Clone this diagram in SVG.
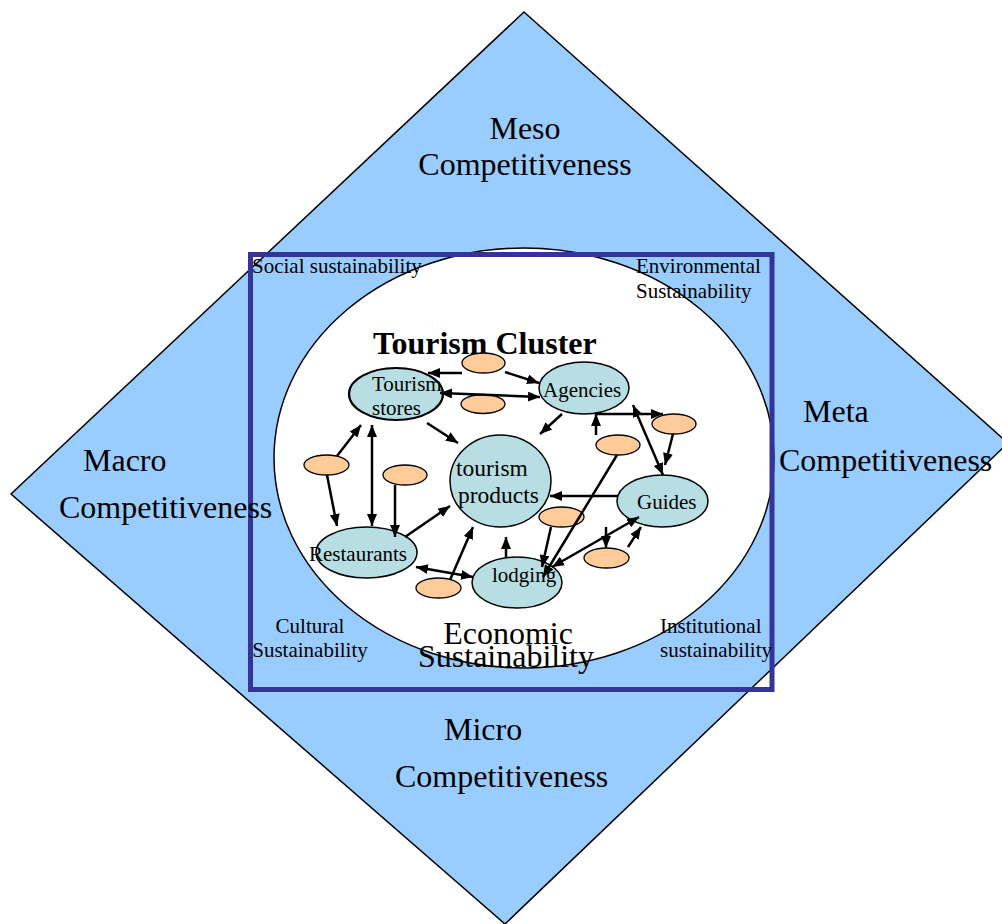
<svg xmlns="http://www.w3.org/2000/svg" width="1002" height="924" viewBox="0 0 1002 924">
<defs>
<marker id="ah" viewBox="0 0 12 10" refX="12" refY="5" markerWidth="12" markerHeight="10" markerUnits="userSpaceOnUse" orient="auto-start-reverse"><path d="M0,0 L12,5 L0,10 z" fill="#000"/></marker>
</defs>
<style>
text{font-family:"Liberation Serif","Times New Roman",serif;fill:#000}
.big{font-size:32px}
.sm{font-size:21px}
.nd{font-size:21px}
.node{fill:#b7dee2;stroke:#000;stroke-width:1.5}
.orn{fill:#ffcc99;stroke:#000;stroke-width:1.3}
.c line{stroke:#000;stroke-width:2.5;marker-end:url(#ah)}
.c line.d{marker-start:url(#ah)}
</style>
<rect width="1002" height="924" fill="#fff"/>
<g id="background">
<polygon points="524,12 1008,443 505,924 11,494" fill="#99ccff" stroke="#000" stroke-width="1.5"/>
<ellipse cx="524" cy="458" rx="250" ry="210" fill="#fff" stroke="#000" stroke-width="1.5"/>
<rect x="250.5" y="254.5" width="521.5" height="435" fill="none" stroke="#333399" stroke-width="5"/>
</g>
<g id="labels">
<text class="big" x="525" y="139" text-anchor="middle">Meso</text>
<text class="big" x="525" y="175" text-anchor="middle">Competitiveness</text>
<text class="big" x="83" y="471">Macro</text>
<text class="big" x="59" y="518">Competitiveness</text>
<text class="big" x="803" y="422">Meta</text>
<text class="big" x="779" y="471">Competitiveness</text>
<text class="big" x="444" y="740">Micro</text>
<text class="big" x="395" y="787">Competitiveness</text>
<text class="sm" x="252" y="273">Social sustainability</text>
<text class="sm" x="636" y="273">Environmental</text>
<text class="sm" x="636" y="298">Sustainability</text>
<text class="sm" x="310" y="633" text-anchor="middle">Cultural</text>
<text class="sm" x="310" y="657" text-anchor="middle">Sustainability</text>
<text class="sm" x="660" y="633">Institutional</text>
<text class="sm" x="660" y="657">sustainability</text>
<text class="big" x="508" y="644" text-anchor="middle">Economic</text>
<text class="big" x="506" y="667" text-anchor="middle">Sustainability</text>
<text x="373" y="354" style="font-size:32px;font-weight:bold">Tourism Cluster</text>
</g>
<g id="n-stores"><ellipse class="node" cx="396" cy="394" rx="47" ry="26" style="stroke-width:2.2"/><text class="nd" x="372" y="391">Tourism</text><text class="nd" x="372" y="415">stores</text></g>
<g id="n-agencies"><ellipse class="node" cx="584" cy="388" rx="45" ry="26"/><text class="nd" x="543" y="397">Agencies</text></g>
<g id="n-products"><ellipse class="node" cx="500.5" cy="481" rx="50.5" ry="46"/><text x="456" y="476" style="font-size:23.5px">tourism</text><text x="458" y="503" style="font-size:23.5px">products</text></g>
<g id="n-guides"><ellipse class="node" cx="662.5" cy="501" rx="45.5" ry="26"/><text class="nd" x="637" y="509">Guides</text></g>
<g id="n-restaurants"><ellipse class="node" cx="366.5" cy="552.5" rx="50.5" ry="25.5"/><text class="nd" x="309" y="561">Restaurants</text></g>
<g id="n-lodging"><ellipse class="node" cx="517" cy="582.5" rx="45" ry="25.5"/><text class="nd" x="492" y="582">lodging</text></g>
<g id="o1"><ellipse class="orn" cx="483.5" cy="363" rx="21.5" ry="10"/></g>
<g id="o2"><ellipse class="orn" cx="483" cy="404" rx="22" ry="9.5"/></g>
<g id="o3"><ellipse class="orn" cx="326.5" cy="465" rx="22.5" ry="10"/></g>
<g id="o4"><ellipse class="orn" cx="405" cy="475" rx="22" ry="10"/></g>
<g id="o5"><ellipse class="orn" cx="674" cy="424" rx="22" ry="10"/></g>
<g id="o6"><ellipse class="orn" cx="618" cy="445" rx="22" ry="10"/></g>
<g id="o7"><ellipse class="orn" cx="561.5" cy="517" rx="22.5" ry="10"/></g>
<g id="o8"><ellipse class="orn" cx="606.5" cy="558" rx="22.5" ry="10"/></g>
<g id="o9"><ellipse class="orn" cx="438.5" cy="588" rx="22.5" ry="10"/></g>
<g id="connectors" class="c">
<line x1="462" y1="373" x2="428" y2="373"/>
<line x1="505" y1="372" x2="539" y2="383"/>
<line class="d" x1="440" y1="393" x2="540" y2="397"/>
<line x1="427" y1="423" x2="458" y2="443"/>
<line x1="337" y1="456" x2="361" y2="425"/>
<line class="d" x1="372" y1="425" x2="372" y2="526"/>
<line x1="327" y1="475" x2="337" y2="526"/>
<line x1="395" y1="485" x2="395" y2="537"/>
<line x1="405" y1="537" x2="450" y2="506"/>
<line class="d" x1="416" y1="567" x2="473" y2="577"/>
<line x1="450" y1="580" x2="473" y2="527"/>
<line x1="506" y1="557" x2="506" y2="537"/>
<line x1="618" y1="496" x2="550" y2="496"/>
<line x1="551" y1="527" x2="542" y2="567"/>
<line x1="617" y1="455" x2="543" y2="577"/>
<line class="d" x1="552" y1="567" x2="639" y2="517"/>
<line x1="606" y1="527" x2="606" y2="548"/>
<line x1="628" y1="547" x2="641" y2="527"/>
<line x1="595" y1="414" x2="663" y2="414"/>
<line x1="596" y1="435" x2="596" y2="414"/>
<line class="d" x1="633" y1="405" x2="663" y2="475"/>
<line x1="673" y1="434" x2="665" y2="465"/>
<line x1="562" y1="414" x2="540" y2="434"/>
</g>
</svg>
